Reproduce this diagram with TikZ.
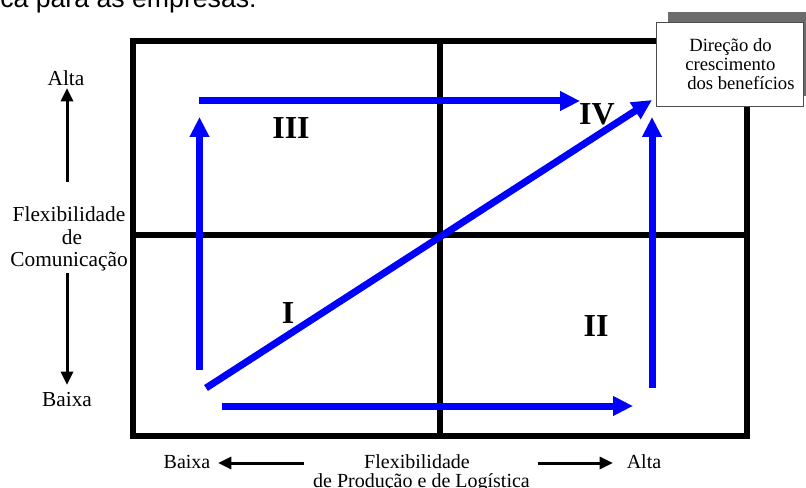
\documentclass[tikz,border=0pt]{standalone}
\usepackage{fontspec}
\setmainfont{Liberation Serif}
\newfontfamily\arialf{Liberation Sans}
\usetikzlibrary{arrows.meta}
\tikzset{
  grid/.style={line width=4.5pt},
  bluearrow/.style={draw=blue, line width=5.25pt, -{Triangle[width=14pt,length=15pt]}},
  axisarrow/.style={line width=2.25pt, -{Triangle[width=9pt,length=10pt]}},
  lbl/.style={font=\fontsize{16}{16}\selectfont, inner sep=0pt, anchor=base},
  blbl/.style={font=\fontsize{15}{15}\selectfont, inner sep=0pt, anchor=base},
  boxlbl/.style={font=\fontsize{14}{14}\selectfont, inner sep=0pt, anchor=base west},
  roman/.style={font=\fontsize{24}{24}\selectfont\bfseries, inner sep=0pt}
}
\begin{document}
\begin{tikzpicture}[x=0.75pt,y=-0.75pt]
\useasboundingbox (0,0) rectangle (806,488);
\clip (0,0) rectangle (806,488);
% cropped text at top
\node[font=\arialf\fontsize{20}{20}\selectfont, inner sep=0pt, anchor=base west] (toptext) at (0,8) {ca para as empresas:};
% grid
\draw[grid] (133,41) rectangle (747,436);
\draw[grid] (440,41) -- (440,436);
\draw[grid] (133,235) -- (747,235);
% blue arrows
\coordinate (lvA) at (199.5,370); \coordinate (lvB) at (199.5,117);
\coordinate (thA) at (199,101);   \coordinate (thB) at (580,101);
\coordinate (dgA) at (206,388);   \coordinate (dgB) at (652,100);
\coordinate (rvA) at (652,388);   \coordinate (rvB) at (652,117);
\coordinate (bhA) at (222,406);   \coordinate (bhB) at (633,406);
\draw[bluearrow] (lvA) -- (lvB);
\draw[bluearrow] (thA) -- (thB);
\draw[bluearrow] (dgA) -- (dgB);
\draw[bluearrow] (rvA) -- (rvB);
\draw[bluearrow] (bhA) -- (bhB);
% roman numerals
\node[roman] (rIII) at (291,128) {III};
\node[roman] (rIV) at (597,114) {IV};
\node[roman] (rI) at (288,313) {I};
\node[roman] (rII) at (596,326) {II};
% box with shadow
\fill[gray!85!black] (668,12) rectangle (818,96);
\draw[fill=white, draw=black!70, line width=0.75pt] (656,23) rectangle (803,107);
\node[boxlbl] (b1) at (689,52) {Direção do};
\node[boxlbl] (b2) at (685,71) {crescimento};
\node[boxlbl] (b3) at (687,90) {dos benefícios};
% left axis
\node[lbl] (yalta) at (66,86) {Alta};
\node[lbl] (yf1) at (69,222) {Flexibilidade};
\node[lbl] (yf2) at (72,245) {de};
\node[lbl] (yf3) at (69,267) {Comunicação};
\node[lbl] (ybaixa) at (67,406) {Baixa};
\coordinate (yuA) at (67,182); \coordinate (yuB) at (67,88);
\coordinate (ydA) at (67,273); \coordinate (ydB) at (67,385);
\draw[axisarrow] (yuA) -- (yuB);
\draw[axisarrow] (ydA) -- (ydB);
% bottom axis
\node[blbl] (xbaixa) at (187,468) {Baixa};
\node[blbl] (xalta) at (644,468) {Alta};
\node[blbl] (xf1) at (417,468) {Flexibilidade};
\node[blbl] (xf2) at (421.5,487) {de Produção e de Logística};
\coordinate (xlA) at (304,463); \coordinate (xlB) at (218,463);
\coordinate (xrA) at (538,463); \coordinate (xrB) at (613,463);
\draw[axisarrow] (xlA) -- (xlB);
\draw[axisarrow] (xrA) -- (xrB);
\end{tikzpicture}
\end{document}
